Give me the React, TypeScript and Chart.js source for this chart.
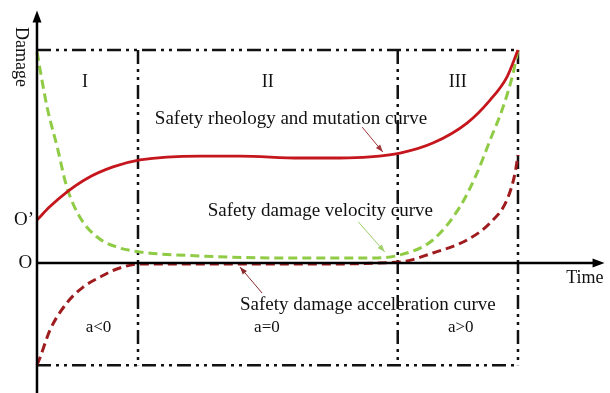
import React, { useEffect, useRef } from "react";
import { Chart, registerables } from "chart.js";
Chart.register(...registerables);

// Time (t) in stage units, damage in arbitrary units
const rheologyT = [0, 0.27, 0.62, 1.04, 1.58, 2.14, 3.39, 4.22, 5.47, 6.3, 6.92, 7.55, 8.23, 8.94, 9.42, 9.77, 10];
const rheologyV = [2.02, 2.65, 3.33, 3.97, 4.51, 4.84, 5.02, 5.02, 4.93, 4.93, 4.98, 5.16, 5.63, 6.57, 7.65, 8.73, 10];

const velocityT = [0, 0.21, 0.42, 0.62, 0.89, 1.25, 1.66, 2.14, 3.39, 5.47, 6.92, 7.55, 8.23, 8.79, 9.15, 9.42, 9.69, 9.9, 10];
const velocityV = [9.9, 7.32, 5.45, 3.57, 2.16, 1.22, 0.75, 0.52, 0.33, 0.23, 0.23, 0.38, 1.08, 2.63, 4.23, 5.77, 7.32, 8.92, 10];

const accelT = [0, 0.06, 0.27, 0.62, 0.96, 1.31, 1.66, 2.14, 3.39, 5.47, 7.55, 8.23, 8.94, 9.42, 9.77, 9.94, 10];
const accelV = [-4.79, -4.46, -3.15, -1.88, -1.13, -0.66, -0.28, -0.05, -0.05, -0.05, 0.05, 0.47, 1.08, 1.88, 2.96, 4.23, 5.07];

const stageBounds = [0, 2.1, 7.5, 10];
const stageNames = ["I", "II", "III"];
const stageSigns = ["a<0", "a=0", "a>0"];
const damageTop = 10;
const damageBottom = -4.8;
const originPrime = 2.02;

const RED = "#c4161c";
const GREEN = "#8fcb45";
const DARK = "#9e1b1e";
const FONT = '"Liberation Serif", "Times New Roman", serif';

const pts = (xs: number[], ys: number[]) => xs.map((x, i) => ({ x, y: ys[i] }));

export default function App() {
  const ref = useRef<HTMLCanvasElement | null>(null);
  useEffect(() => {
    if (!ref.current) return;
    const boxDash = [14, 5, 3, 5, 3, 5];
    const boxSets: any[] = [];
    const boxLine = (a: { x: number; y: number }, b: { x: number; y: number }) => ({
      data: [a, b],
      borderColor: "#111",
      borderWidth: 2.5,
      borderDash: boxDash,
      pointRadius: 0,
      tension: 0,
      order: 5,
    });
    boxSets.push(boxLine({ x: stageBounds[0], y: damageTop }, { x: stageBounds[3], y: damageTop }));
    boxSets.push(boxLine({ x: stageBounds[0], y: damageBottom }, { x: stageBounds[3], y: damageBottom }));
    for (let i = 1; i < stageBounds.length; i++) {
      boxSets.push(boxLine({ x: stageBounds[i], y: damageTop }, { x: stageBounds[i], y: damageBottom }));
    }

    const deco = {
      id: "deco",
      afterDatasetsDraw(chart: any) {
        const { ctx, scales } = chart;
        const X = (v: number) => scales.x.getPixelForValue(v);
        const Y = (v: number) => scales.y.getPixelForValue(v);
        ctx.save();
        // axes
        ctx.strokeStyle = "#000";
        ctx.fillStyle = "#000";
        ctx.lineWidth = 2.5;
        ctx.beginPath();
        ctx.moveTo(X(0), Y(-6.2));
        ctx.lineTo(X(0), Y(11.6));
        ctx.moveTo(X(0), Y(0));
        ctx.lineTo(X(11.6), Y(0));
        ctx.stroke();
        // arrowheads
        ctx.beginPath();
        ctx.moveTo(X(0), Y(11.85));
        ctx.lineTo(X(0) - 4.5, Y(11.85) + 12);
        ctx.lineTo(X(0) + 4.5, Y(11.85) + 12);
        ctx.closePath();
        ctx.fill();
        ctx.beginPath();
        ctx.moveTo(X(11.8), Y(0));
        ctx.lineTo(X(11.8) - 12, Y(0) - 4.5);
        ctx.lineTo(X(11.8) - 12, Y(0) + 4.5);
        ctx.closePath();
        ctx.fill();

        const arrow = (x1: number, y1: number, x2: number, y2: number, color: string) => {
          const px1 = X(x1), py1 = Y(y1), px2 = X(x2), py2 = Y(y2);
          const ang = Math.atan2(py2 - py1, px2 - px1);
          ctx.strokeStyle = color;
          ctx.fillStyle = color;
          ctx.lineWidth = 1;
          ctx.beginPath();
          ctx.moveTo(px1, py1);
          ctx.lineTo(px2, py2);
          ctx.stroke();
          ctx.beginPath();
          ctx.moveTo(px2, py2);
          ctx.lineTo(px2 - 8 * Math.cos(ang - 0.35), py2 - 8 * Math.sin(ang - 0.35));
          ctx.lineTo(px2 - 8 * Math.cos(ang + 0.35), py2 - 8 * Math.sin(ang + 0.35));
          ctx.closePath();
          ctx.fill();
        };
        arrow(6.76, 6.38, 7.19, 5.21, "#a0353a");
        arrow(6.68, 1.93, 7.23, 0.52, "#9fd06a");
        arrow(4.68, -1.41, 4.22, -0.19, "#8a2a2e");

        ctx.fillStyle = "#111";
        ctx.textBaseline = "middle";
        const text = (s: string, x: number, y: number, size: number, align: CanvasTextAlign = "center") => {
          ctx.font = `${size}px ${FONT}`;
          ctx.textAlign = align;
          ctx.fillText(s, X(x), Y(y));
        };
        for (let i = 0; i < 3; i++) {
          const mid = i === 0 ? 1.0 : (stageBounds[i] + stageBounds[i + 1]) / 2;
          text(stageNames[i], mid, 8.5, 18);
          text(stageSigns[i], i === 0 ? 1.28 : i === 1 ? 4.78 : 8.81, -3.05, 17);
        }
        text("Safety rheology and mutation curve", 2.45, 6.75, 19, "left");
        text("Safety damage velocity curve", 3.55, 2.45, 19, "left");
        text("Safety damage acceleration curve", 4.22, -1.98, 19, "left");
        text("Time", 11.39, -0.72, 18);
        text("O", -0.24, 0, 19);
        text("O\u2019", -0.27, originPrime, 19);
        // rotated axis title
        ctx.save();
        ctx.translate(X(-0.34), Y(9.67));
        ctx.rotate(Math.PI / 2);
        ctx.font = `18px ${FONT}`;
        ctx.textAlign = "center";
        ctx.fillText("Damage", 0, 0);
        ctx.restore();
        ctx.restore();
      },
    };

    const chart = new Chart(ref.current, {
      type: "line",
      data: {
        datasets: [
          { data: pts(rheologyT, rheologyV), borderColor: RED, borderWidth: 2.8, pointRadius: 0, cubicInterpolationMode: "monotone", order: 1 },
          { data: pts(velocityT, velocityV), borderColor: GREEN, borderWidth: 3, borderDash: [9, 5], pointRadius: 0, cubicInterpolationMode: "monotone", order: 2 },
          { data: pts(accelT, accelV), borderColor: DARK, borderWidth: 3, borderDash: [9, 5], pointRadius: 0, cubicInterpolationMode: "monotone", order: 3 },
          ...boxSets,
        ] as any,
      },
      options: {
        animation: false,
        responsive: false,
        layout: { padding: 0 },
        plugins: { legend: { display: false }, tooltip: { enabled: false } },
        scales: {
          x: { type: "linear", min: -0.769, max: 11.913, display: false },
          y: { type: "linear", min: -6.103, max: 12.347, display: false },
        },
      },
      plugins: [deco],
    });
    return () => chart.destroy();
  }, []);
  return (
    <div style={{ position: "absolute", left: 0, top: 0, width: 610, height: 393, background: "#fff" }}>
      <canvas ref={ref} width={610} height={393} />
    </div>
  );
}
